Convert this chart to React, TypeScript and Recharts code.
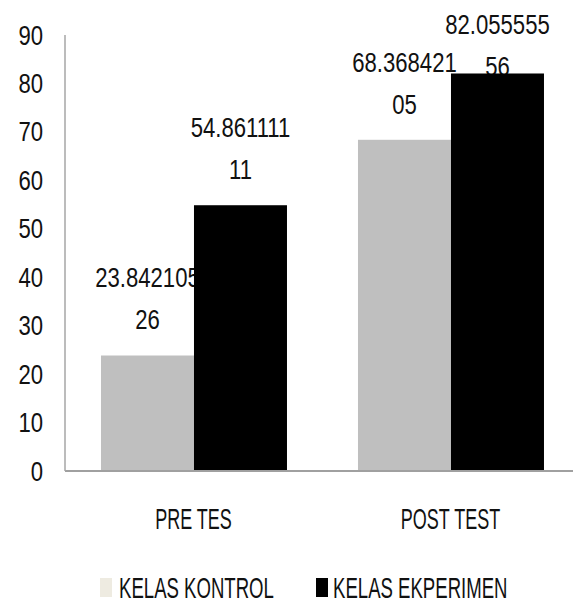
import { BarChart, Bar, XAxis, YAxis, Legend } from 'recharts';

const categories = ['PRE TES', 'POST TEST'];
const kontrol = [23.84210526, 68.36842105];
const eksperimen = [54.86111111, 82.05555556];
const yTicks = [0, 10, 20, 30, 40, 50, 60, 70, 80, 90];
const seriesNames = ['KELAS KONTROL', 'KELAS EKPERIMEN'];

const FONT = '"Liberation Sans", Arial, sans-serif';
const TEXT = '#111';

const data = categories.map((name, i) => ({
  name,
  kontrol: kontrol[i],
  eksperimen: eksperimen[i],
}));

// original text is a very condensed font, so squeeze Liberation Sans horizontally
function NarrowText({ x, y, anchor = 'middle', fs = 27, sx = 0.82, children }: any) {
  return (
    <text
      transform={`translate(${x} ${y}) scale(${sx} 1)`}
      x={0}
      y={0}
      textAnchor={anchor}
      fontFamily={FONT}
      fontSize={fs}
      fill={TEXT}
    >
      {children}
    </text>
  );
}

// label drawn before the rect so bars cover the text like in the original
function BarWithLabel(props: any) {
  const { x, y, width, height, fill, value } = props;
  const v = Array.isArray(value) ? value[1] : value;
  const str = String(v);
  const cx = x + width / 2;
  const line1 = Math.max(y - 68, 34);
  return (
    <g>
      <NarrowText x={cx} y={line1}>{str.slice(0, 9)}</NarrowText>
      <NarrowText x={cx} y={line1 + 42}>{str.slice(9)}</NarrowText>
      <rect x={x} y={y} width={width} height={height} fill={fill} />
    </g>
  );
}

function YTick({ x, y, payload }: any) {
  return <NarrowText x={x} y={y + 9.5} anchor="end">{payload.value}</NarrowText>;
}

function XTick({ x, y, payload }: any) {
  return <NarrowText x={x} y={y + 58} fs={30} sx={0.6}>{payload.value}</NarrowText>;
}

function LegendContent() {
  const items = [
    { label: seriesNames[0], color: '#EEEBE1', ix: 100, tx: 119 },
    { label: seriesNames[1], color: '#000000', ix: 316, tx: 333 },
  ];
  return (
    <svg width={573} height={36} style={{ display: 'block', overflow: 'visible' }}>
      {items.map((it) => (
        <g key={it.label}>
          <rect x={it.ix} y={6} width={12} height={19} fill={it.color} />
          <NarrowText x={it.tx} y={26} anchor="start" fs={30} sx={0.62}>{it.label}</NarrowText>
        </g>
      ))}
    </svg>
  );
}

export default function App() {
  return (
    <div style={{ position: 'absolute', left: 0, top: 0, width: 573, height: 607, overflow: 'hidden', background: '#fff' }}>
      <BarChart
        width={580}
        height={607}
        data={data}
        margin={{ top: 35, right: 1, bottom: 70, left: 0 }}
        barCategoryGap="14%"
        barGap={0}
      >
        <XAxis
          dataKey="name"
          tickLine={false}
          tickSize={0}
          tickMargin={0}
          axisLine={{ stroke: '#A0A0A0', strokeWidth: 2 }}
          tick={<XTick />}
        />
        <YAxis
          width={65}
          domain={[0, 90]}
          ticks={yTicks}
          tickLine={false}
          tickSize={0}
          tickMargin={22}
          axisLine={{ stroke: '#A6A6A6', strokeWidth: 1.5 }}
          tick={<YTick />}
        />
        <Legend
          content={<LegendContent />}
          wrapperStyle={{ position: 'absolute', top: 572, left: 0, width: 573, height: 36 }}
        />
        <Bar dataKey="kontrol" name={seriesNames[0]} fill="#BFBFBF" shape={<BarWithLabel />} isAnimationActive={false} />
        <Bar dataKey="eksperimen" name={seriesNames[1]} fill="#000000" shape={<BarWithLabel />} isAnimationActive={false} />
      </BarChart>
    </div>
  );
}
